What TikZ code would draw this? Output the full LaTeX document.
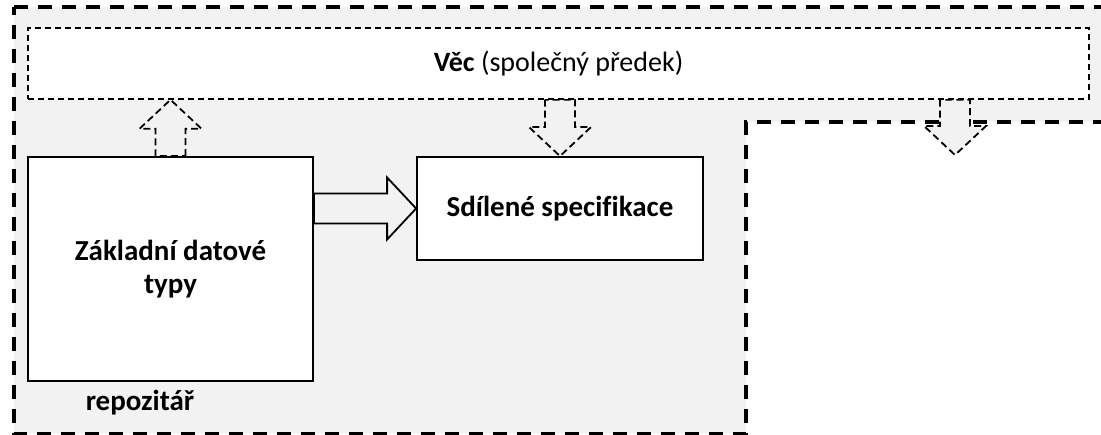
\documentclass[tikz,border=0pt]{standalone}
\usepackage{fontspec}
\setmainfont{Carlito}[Ligatures=NoCommon]
\usetikzlibrary{calc,backgrounds}

\definecolor{pozadi}{HTML}{F2F2F2}
\newcommand{\velky}{\fontsize{29}{33}\selectfont}

% blokova sipka z #2 do #3
\newcommand{\sipka}[3][]{%
  \path[#1] let \p1=(#2), \p2=(#3),
    \n1={atan2(\y2-\y1,\x2-\x1)}, \n2={veclen(\x2-\x1,\y2-\y1)} in
    [shift={(\p1)},rotate=\n1]
    (0pt,-15pt) -- (\n2-29pt,-15pt) -- (\n2-29pt,-31pt) -- (\n2,0pt)
    -- (\n2-29pt,31pt) -- (\n2-29pt,15pt) -- (0pt,15pt) -- cycle;}

\begin{document}
\begin{tikzpicture}[x=1pt,y=-1pt,
    okraj/.style={draw,dash pattern=on 14pt off 10pt,line width=3.2pt,fill=pozadi},
    box/.style={draw,line width=1.8pt,fill=white,inner sep=0pt,align=center,font=\velky\bfseries},
    spolecny/.style={draw,dash pattern=on 6pt off 4pt,line width=1.5pt,fill=white,inner sep=0pt,font=\fontsize{28}{33}\selectfont},
    carkovana/.style={draw,dash pattern=on 7pt off 4pt,line width=1.8pt,fill=pozadi},
    plna/.style={draw,line width=1.8pt,fill=pozadi}]

  \useasboundingbox (0,0) rectangle (1101,435);
  \clip (0,0) rectangle (1101,435);

  \node[spolecny,minimum width=1061pt,minimum height=71pt] (vec) at (558.5,63.5) {\textbf{Věc} (společný předek)};
  \node[box,minimum width=285pt,minimum height=224pt] (zak) at (170.5,269) {Základní datové\\typy};
  \node[box,minimum width=286pt,minimum height=103pt] (sdil) at (560,208.5) {Sdílené specifikace};
  \node[font=\velky\bfseries] (repo) at (140,403) {repozitář};
  \coordinate (ven) at (955,155);

  \begin{pgfonlayer}{background}
    % repozitar
    \draw[okraj] (14,7) -- (1115,7) -- (1115,122) -- (746,122) -- (746,434) -- (14,434) -- cycle;

    \sipka[carkovana]{zak.north}{vec.south -| zak.north}
    \sipka[carkovana]{vec.south -| sdil.north}{sdil.north}
    \sipka[carkovana]{vec.south -| ven}{ven}
    \sipka[plna]{zak.east |- sdil.west}{sdil.west}
  \end{pgfonlayer}

\end{tikzpicture}
\end{document}
